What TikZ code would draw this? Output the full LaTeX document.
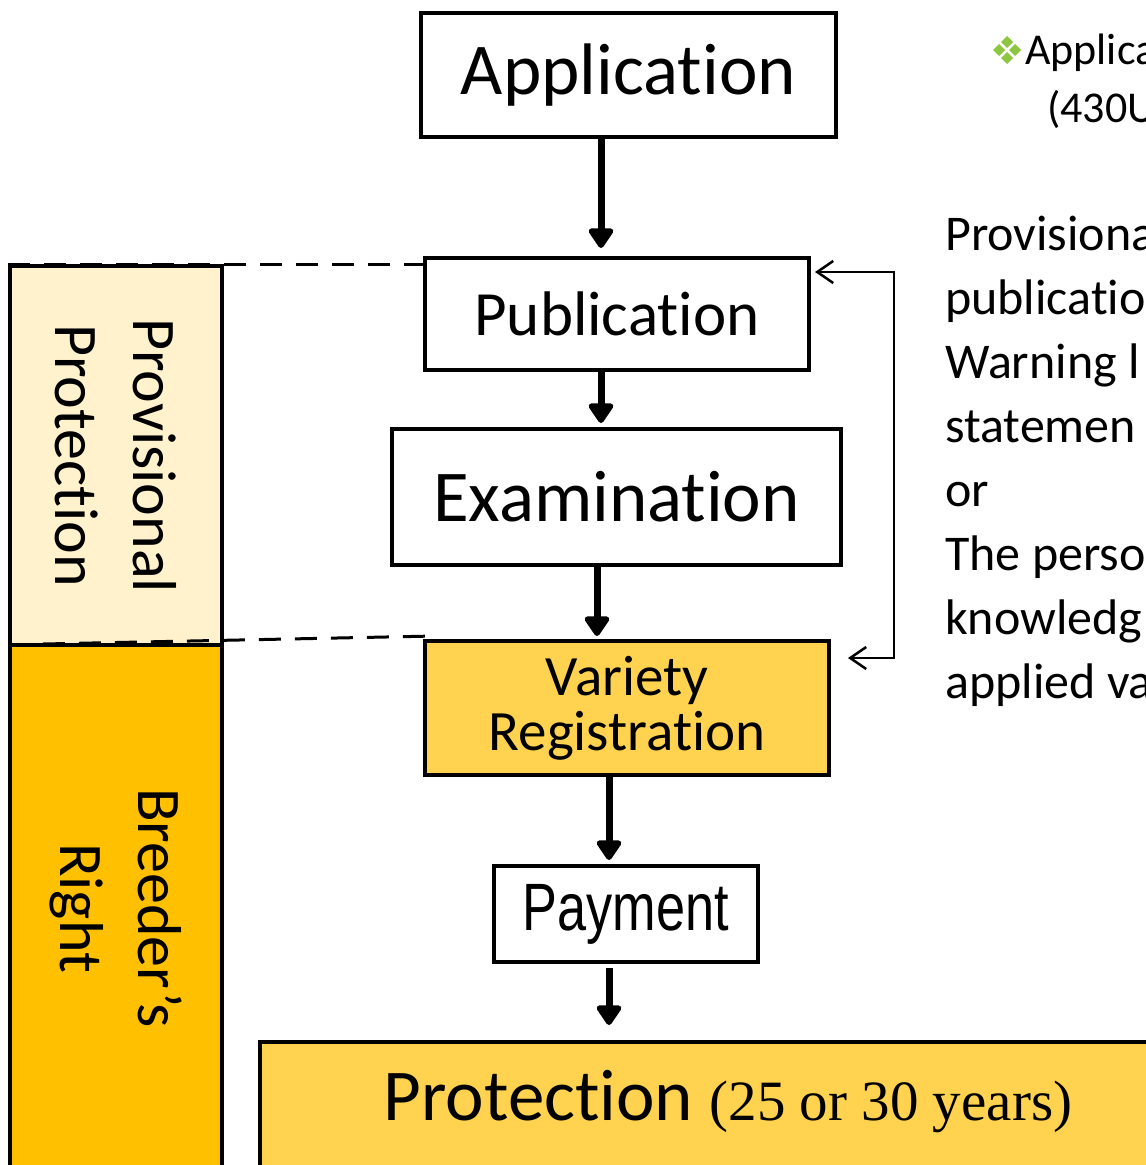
\documentclass[tikz,border=0pt]{standalone}
\usepackage{fontspec}
\setmainfont{Carlito}[RawFeature={-liga;-clig;-calt;-dlig}]
\newfontfamily\narrowfont[FakeStretch=0.78]{Liberation Sans}
\newfontfamily\timesfont{Liberation Serif}
\usetikzlibrary{arrows.meta,calc}

\definecolor{cream}{HTML}{FFF2CC}
\definecolor{gold}{HTML}{FFC000}
\definecolor{lightgold}{HTML}{FFD34F}
\definecolor{leaf}{HTML}{8DC63F}

\tikzset{
    stage/.style={draw, line width=4pt, inner sep=0pt},
    phase/.style={draw, line width=4pt},
    phasetext/.style={rotate=-90, align=center, font=\fontsize{62}{78}\selectfont},
    flow/.style={line width=7pt, -{Triangle[length=22pt,width=28pt,round]}},
    feedback/.style={line width=2.5pt, {Straight Barb[length=16pt,width=22pt]}-{Straight Barb[length=16pt,width=22pt]}},
    guide/.style={line width=3pt, dash pattern=on 22pt off 14pt},
    note/.style={anchor=base west, inner sep=0pt}
}

\begin{document}
\begin{tikzpicture}[x=1pt, y=-1pt]
    % Frame of the slide (pixel coordinates, y pointing down)
    \useasboundingbox (0,0) rectangle (1146,1165);
    \clip (0,0) rectangle (1146,1165);

    % Left bars for the two periods
    \node[phase, fill=cream, minimum width=212, minimum height=379] (prov) at (116,455.5) {};
    \node[phase, fill=gold, minimum width=212, minimum height=540] (breed) at (116,915) {};
    \node[phasetext] (provtext) at (prov.center) {Provisional\\Protection};
    \node[phasetext] (breedtext) at (116,908) {Breeder’s\\Right};

    % Steps of the procedure
    \node[stage, minimum width=415, minimum height=124, font=\fontsize{73}{88}\selectfont] (app) at (628.5,75) {Application};
    \node[stage, minimum width=384, minimum height=112, font=\fontsize{63}{76}\selectfont] (pub) at (617,314) {Publication};
    \node[stage, minimum width=449, minimum height=136, font=\fontsize{73}{88}\selectfont] (exam) at (616.5,497) {Examination};
    \node[stage, fill=lightgold, minimum width=404, minimum height=134, align=center, font=\fontsize{57}{55}\selectfont] (reg) at (627,708) {Variety\\Registration};
    \node[stage, minimum width=264, minimum height=96, font=\narrowfont\fontsize{67}{80}\selectfont] (pay) at (626,914) {Payment};

    % Protection bar at the bottom, runs off the slide
    \node[stage, fill=lightgold, minimum width=960, minimum height=160, anchor=north west] (prot) at (258,1040) {};
    \node[font=\fontsize{73}{88}\selectfont] (prottext) at (728,1102) {Protection {\timesfont\fontsize{57}{68}\selectfont (25 or 30 years)}};

    % Dashed guides from the bars to the steps
    \draw[guide] (prov.north west) -- (prov.north west -| pub.west);
    \draw[guide] ($(prov.south west)+(35,-3)$) -- ($(reg.north west)+(12,-3)$);

    % Main flow
    \draw[flow, shorten >=8pt] (app.south -| 601,0) -- (pub.north -| 601,0);
    \draw[flow, shorten >=4pt] (pub.south -| 601,0) -- (exam.north -| 601,0);
    \draw[flow, shorten >=3pt] (exam.south -| 597,0) -- (reg.north -| 597,0);
    \draw[flow, shorten >=4pt] (reg.south -| 609,0) -- (pay.north -| 609,0);
    \draw[flow, shorten <=4pt, shorten >=15pt] (pay.south -| 609,0) -- (prot.north -| 609,0);

    % Bracket arrow on the right
    \coordinate (fbtop) at (894,272);
    \coordinate (fbbot) at (894,658);
    \draw[feedback] ($(pub.east)+(4,-42)$) -- (fbtop) -- (fbbot) -- ($(reg.east)+(17,-50)$);

    % Notes on the right, cut by the slide edge
    \foreach \dx/\dy in {0/-8, -8/0, 8/0, 0/8}
        \fill[leaf] ({1007+\dx},{50+\dy}) +(0,-6) -- +(6,0) -- +(0,6) -- +(-6,0) -- cycle;
    \node[note, font=\fontsize{44}{56}\selectfont] (cond1) at (1025,64) {Applica};
    \node[note, font=\fontsize{44}{56}\selectfont] (cond2) at (1047,122) {(430U};
    \foreach \line [count=\i] in {Provisiona, publicatio, Warning l, statemen, or, The perso, knowledg, applied va}
        \node[note, font=\fontsize{50}{64}\selectfont] (note\i) at (945,{250+64*(\i-1)}) {\line};

\end{tikzpicture}
\end{document}
